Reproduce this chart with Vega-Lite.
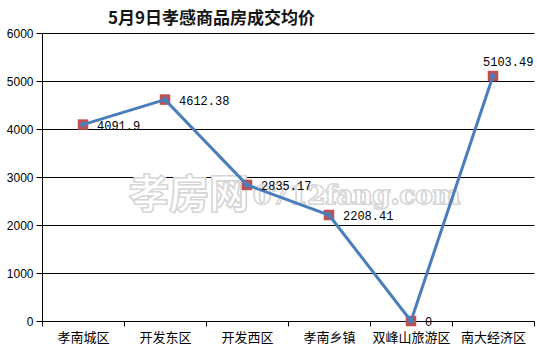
{
  "$schema": "https://vega.github.io/schema/vega-lite/v6.json",
  "width": 492,
  "height": 288,
  "autosize": {"type": "none"},
  "padding": {"left": 42, "top": 33, "right": 3, "bottom": 31},
  "background": "white",
  "title": {
    "text": "5月9日孝感商品房成交均价",
    "anchor": "start",
    "frame": "group",
    "dx": 66,
    "offset": -1,
    "font": "Noto Sans CJK SC",
    "fontSize": 17,
    "fontWeight": "bold",
    "color": "#151515"
  },
  "config": {
    "view": {"stroke": null},
    "axis": {
      "domainColor": "black",
      "tickColor": "black",
      "labelColor": "black",
      "domainWidth": 1,
      "tickWidth": 1
    }
  },
  "data": {
    "values": [
      {"area": "孝南城区", "price": 4091.9},
      {"area": "开发东区", "price": 4612.38},
      {"area": "开发西区", "price": 2835.17},
      {"area": "孝南乡镇", "price": 2208.41},
      {"area": "双峰山旅游区", "price": 0},
      {"area": "南大经济区", "price": 5103.49}
    ]
  },
  "encoding": {
    "x": {
      "field": "area",
      "type": "nominal",
      "sort": ["孝南城区", "开发东区", "开发西区", "孝南乡镇", "双峰山旅游区", "南大经济区"],
      "scale": {"type": "band", "paddingInner": 0, "paddingOuter": 0, "domain": ["孝南城区", "开发东区", "开发西区", "孝南乡镇", "双峰山旅游区", "南大经济区"]},
      "axis": {
        "title": null,
        "labelAngle": 0,
        "tickBand": "extent",
        "tickSize": 5,
        "labelPadding": 5,
        "labelFont": "Noto Sans CJK SC",
        "labelFontSize": 13,
        "grid": false
      }
    },
    "y": {
      "field": "price",
      "type": "quantitative",
      "scale": {"domain": [0, 6000], "nice": false},
      "axis": {
        "title": null,
        "values": [0, 1000, 2000, 3000, 4000, 5000, 6000],
        "format": "d",
        "grid": true,
        "gridColor": "black",
        "gridWidth": 1,
        "gridOpacity": 1,
        "tickSize": 6,
        "labelPadding": 3,
        "labelFont": "Liberation Sans",
        "labelFontSize": 12
      }
    }
  },
  "layer": [
    {
      "mark": {
        "type": "text",
        "text": "孝房网",
        "font": "Noto Sans CJK SC",
        "fontSize": 40,
        "fontWeight": "bold",
        "fill": "white",
        "stroke": "#d6d6d6",
        "strokeWidth": 1.2,
        "align": "left",
        "baseline": "middle",
        "dx": 46
      },
      "encoding": {
        "x": {"datum": "孝南城区"},
        "y": {"datum": 2600}
      }
    },
    {
      "mark": {
        "type": "text",
        "text": "0712fang.com",
        "font": "DejaVu Serif",
        "fontSize": 26,
        "fontWeight": "bold",
        "fill": "white",
        "stroke": "#d6d6d6",
        "strokeWidth": 1.2,
        "align": "left",
        "baseline": "middle",
        "dx": 6
      },
      "encoding": {
        "x": {"datum": "开发西区"},
        "y": {"datum": 2600}
      }
    },
    {
      "mark": {"type": "square", "size": 110, "filled": true, "color": "#c0504d", "opacity": 1}
    },
    {
      "mark": {"type": "line", "color": "#4a7ebb", "strokeWidth": 3}
    },
    {
      "mark": {"type": "point", "shape": "diamond", "size": 50, "filled": true, "color": "#4a7ebb", "opacity": 1}
    },
    {
      "transform": [{"filter": "datum.area !== '南大经济区'"}],
      "mark": {"type": "text", "align": "left", "baseline": "middle", "dx": 14, "dy": 1, "font": "Liberation Mono", "fontSize": 12, "color": "black"},
      "encoding": {"text": {"field": "price", "type": "nominal"}}
    },
    {
      "transform": [{"filter": "datum.area === '南大经济区'"}],
      "mark": {"type": "text", "align": "left", "baseline": "middle", "dx": -10, "dy": -14, "font": "Liberation Mono", "fontSize": 12, "color": "black"},
      "encoding": {"text": {"field": "price", "type": "nominal"}}
    }
  ]
}
